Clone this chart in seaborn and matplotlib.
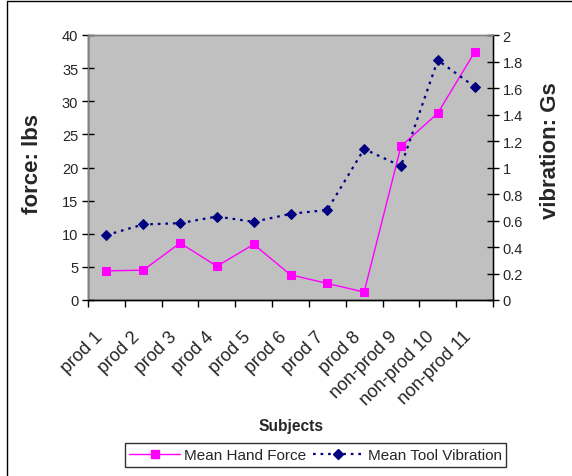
import numpy as np
import pandas as pd
import seaborn as sns
from matplotlib import pyplot as plt
from matplotlib.lines import Line2D
from matplotlib.transforms import ScaledTranslation

subjects = ["prod 1", "prod 2", "prod 3", "prod 4", "prod 5", "prod 6", "prod 7",
            "prod 8", "non-prod 9", "non-prod 10", "non-prod 11"]
hand_force = [4.4, 4.5, 8.6, 5.1, 8.4, 3.8, 2.5, 1.2, 23.2, 28.2, 37.4]
tool_vibration = [0.49, 0.57, 0.58, 0.63, 0.59, 0.65, 0.68, 1.14, 1.01, 1.81, 1.61]

sns.set_theme(style="white")
plt.rcParams['font.family'] = ['Liberation Sans', 'DejaVu Sans']

df = pd.DataFrame({"subject": subjects, "force": hand_force, "vibration": tool_vibration})
df["pos"] = np.arange(len(df))

fig = plt.figure(figsize=(5.72, 4.77), dpi=100)
ax = fig.add_axes([88 / 572, 1 - 301 / 477, 405 / 572, 265 / 477])
ax2 = ax.twinx()

ax.set_facecolor("#C0C0C0")
sns.lineplot(data=df, x="pos", y="force", ax=ax, color="#FF00FF", marker="s",
             markersize=6, markeredgecolor="#FF00FF", linewidth=1.0, sort=False)
sns.lineplot(data=df, x="pos", y="vibration", ax=ax2, color="#000080", marker="D",
             markersize=5, markeredgecolor="#000080", linewidth=1.6,
             linestyle=(0, (1.2, 2.2)), sort=False)

n = len(subjects)
ax.set_xlim(-0.5, n - 0.5)
ax.set_ylim(0, 40)
ax2.set_ylim(0, 2)
ax.set_yticks(range(0, 41, 5))
ax2.set_yticks(np.arange(0, 2.01, 0.2))
ax2.set_yticklabels(["0", "0.2", "0.4", "0.6", "0.8", "1", "1.2", "1.4", "1.6", "1.8", "2"])

ax.set_xticks(np.arange(n))
ax.set_xticklabels(subjects, rotation=45, ha="right", rotation_mode="anchor", fontsize=13)
ax.set_xticks(np.arange(-0.5, n), minor=True)
ax.tick_params(axis="x", which="major", length=0, pad=20)
ax.tick_params(axis="x", which="minor", direction="out", length=5, width=1, color="black", bottom=True)
ax.tick_params(axis="y", direction="inout", length=8, width=1, color="black", left=True, labelsize=10.5, pad=3)
ax2.tick_params(axis="y", direction="inout", length=8, width=1, color="black", right=True, labelsize=10.5, pad=3)

# nudge rotated labels left like the original
shift = ScaledTranslation(-12 / 100, 0, fig.dpi_scale_trans)
for lbl in ax.get_xticklabels():
    lbl.set_transform(lbl.get_transform() + shift)

for a in (ax, ax2):
    for side in a.spines.values():
        side.set_color("#808080")
        side.set_linewidth(1)
ax.spines["left"].set_color("black")
ax.spines["bottom"].set_color("black")
ax2.spines["right"].set_color("black")
ax2.spines["bottom"].set_color("black")

ax.set_xlabel("")
ax.set_ylabel("")
ax2.set_ylabel("")
fig.text(32 / 572, 1 - 164 / 477, "force: lbs", rotation=90, ha="center", va="center",
         fontsize=16, fontweight="bold")
fig.text(550 / 572, 1 - 151 / 477, "vibration: Gs", rotation=90, ha="center", va="center",
         fontsize=16, fontweight="bold")
fig.text(291 / 572, 1 - 427 / 477, "Subjects", ha="center", va="center",
         fontsize=11.2, fontweight="bold")

handles = [
    Line2D([], [], color="#FF00FF", marker="s", markersize=6, linewidth=1.0),
    Line2D([], [], color="#000080", marker="D", markersize=5, linewidth=1.6, linestyle=(0, (1.2, 2.2))),
]
leg = fig.legend(handles, ["Mean Hand Force", "Mean Tool Vibration"], ncol=2,
                 loc="center", bbox_to_anchor=(315.5 / 572, 1 - 456 / 477), fontsize=11,
                 frameon=True, fancybox=False, handlelength=3.3, handletextpad=0.3,
                 columnspacing=0.4, borderpad=0.3)
leg.get_frame().set_edgecolor("black")
leg.get_frame().set_linewidth(1)

# outer chart border (cropped)
fig.add_artist(Line2D([7 / 572, 7 / 572], [0, 1 - 2 / 477], color="black", linewidth=1,
                      transform=fig.transFigure))
fig.add_artist(Line2D([7 / 572, 1], [1 - 2 / 477, 1 - 2 / 477], color="black", linewidth=1,
                      transform=fig.transFigure))

fig.savefig("out.png", dpi=100)
